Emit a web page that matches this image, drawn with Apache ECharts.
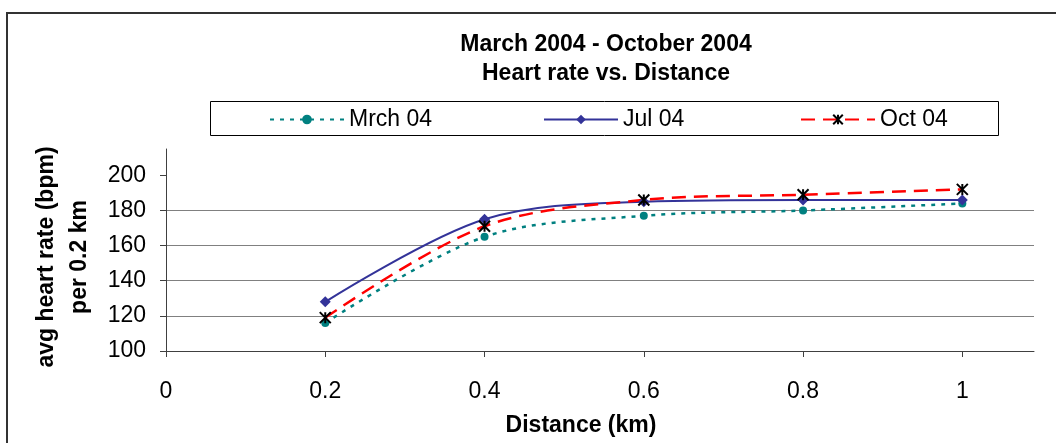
<!DOCTYPE html>
<html>
<head>
<meta charset="utf-8">
<script src="https://cdn.jsdelivr.net/npm/echarts@6/dist/echarts.min.js"></script>
<style>
  html, body { margin: 0; padding: 0; background: #fff; }
  #chart { width: 1056px; height: 443px; }
</style>
</head>
<body>
<div id="chart"></div>
<script>
// Average heart rate per 0.2 km split, three runs in 2004
const distances = [0.2, 0.4, 0.6, 0.8, 1.0];
const mrch04 = [116, 165, 177, 180, 184];
const jul04 = [128, 175, 185, 186, 186];
const oct04 = [119, 171, 186, 189, 192];
const seriesNames = ['Mrch 04', 'Jul 04', 'Oct 04'];
const xTicks = [0, 0.2, 0.4, 0.6, 0.8, 1];
const yTicks = [100, 120, 140, 160, 180, 200];
const titleText = 'March 2004 - October 2004\nHeart rate vs. Distance';
const xName = 'Distance (km)';
const yName = 'avg heart rate (bpm)\nper 0.2 km';

const FONT = '"Liberation Sans", Arial, Helvetica, sans-serif';
const toPairs = vals => distances.map((d, i) => [d, vals[i]]);
// star marker: an "x" with a vertical stroke
const starSymbol = 'path://M0,0L10,10M10,0L0,10M5,0L5,10';

const chart = echarts.init(document.getElementById('chart'), null, { renderer: 'canvas' });

const legendCommon = {
  top: 108,
  padding: 0,
  itemWidth: 74,
  itemHeight: 12,
  textStyle: { fontFamily: FONT, fontSize: 23, color: '#000' }
};

chart.setOption({
  animation: false,
  backgroundColor: '#fff',
  title: {
    text: titleText,
    left: 601,
    top: 25,
    textAlign: 'center',
    textStyle: { fontFamily: FONT, fontSize: 23, fontWeight: 'bold', color: '#000', lineHeight: 29 }
  },
  legend: [
    Object.assign({ data: [seriesNames[0]], left: 269 }, legendCommon),
    Object.assign({ data: [seriesNames[1]], left: 543 }, legendCommon),
    Object.assign({ data: [seriesNames[2]], left: 800 }, legendCommon)
  ],
  graphic: [
    {
      type: 'rect', silent: true, z: -1,
      shape: { x: 7, y: 13, width: 1200, height: 600 },
      style: { fill: 'none', stroke: '#333', lineWidth: 2 }
    },
    {
      type: 'rect', silent: true,
      shape: { x: 210.5, y: 101.5, width: 788, height: 34 },
      style: { fill: 'none', stroke: '#000', lineWidth: 1 }
    }
  ],
  grid: { left: 166, right: 22, top: 149, bottom: 92, containLabel: false },
  xAxis: {
    type: 'value',
    min: 0,
    max: 1.09,
    name: xName,
    nameLocation: 'middle',
    nameGap: 63,
    nameTextStyle: { fontFamily: FONT, fontSize: 23, fontWeight: 'bold', color: '#000', padding: [0, 38, 0, 0] },
    axisLine: { show: true, onZero: false, lineStyle: { color: '#404040', width: 1 } },
    axisTick: { show: true, inside: false, length: 6, customValues: xTicks, lineStyle: { color: '#404040' } },
    axisLabel: { customValues: xTicks, margin: 29, fontFamily: FONT, fontSize: 23, color: '#000' },
    splitLine: { show: false }
  },
  yAxis: {
    type: 'value',
    min: 100,
    max: 215,
    interval: 20,
    name: yName,
    nameLocation: 'middle',
    nameRotate: 90,
    nameGap: 70,
    nameTextStyle: { fontFamily: FONT, fontSize: 23, fontWeight: 'bold', color: '#000', lineHeight: 33, padding: [0, 14, 0, 0] },
    axisLine: { show: true, lineStyle: { color: '#404040', width: 1 } },
    axisTick: { show: true, inside: false, length: 6, customValues: yTicks, lineStyle: { color: '#404040' } },
    axisLabel: { customValues: yTicks, margin: 20, fontFamily: FONT, fontSize: 23, color: '#000' },
    splitLine: { show: true, showMinLine: true, showMaxLine: false, lineStyle: { color: '#808080', width: 1 } }
  },
  series: [
    {
      name: seriesNames[0],
      type: 'line',
      data: toPairs(mrch04),
      smooth: 0.33,
      symbol: 'circle',
      symbolSize: 8,
      itemStyle: { color: '#008080' },
      lineStyle: { color: '#008080', width: 2.5, type: [4, 6] }
    },
    {
      name: seriesNames[1],
      type: 'line',
      data: toPairs(jul04),
      smooth: 0.33,
      symbol: 'diamond',
      symbolSize: 11,
      itemStyle: { color: '#333399' },
      lineStyle: { color: '#333399', width: 2 }
    },
    {
      name: seriesNames[2],
      type: 'line',
      data: toPairs(oct04),
      smooth: 0.33,
      symbol: starSymbol,
      symbolSize: 11,
      itemStyle: { color: 'rgba(0,0,0,0)', borderColor: '#000', borderWidth: 2 },
      lineStyle: { color: '#ff0000', width: 2.5, type: [14, 8] }
    }
  ]
});
</script>
</body>
</html>
